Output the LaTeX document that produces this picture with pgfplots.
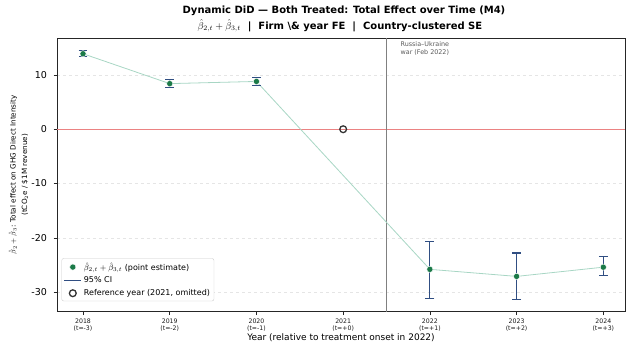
\documentclass[border=0pt]{standalone}
\usepackage{fontspec}
\setmainfont{DejaVu Sans}
\usepackage{pgfplots}
\pgfplotsset{compat=1.18}
\definecolor{ptgreen}{RGB}{27,122,72}
\definecolor{cinavy}{RGB}{48,78,130}
\definecolor{linegreen}{RGB}{168,214,196}
\definecolor{refred}{RGB}{235,130,130}
\definecolor{vgray}{RGB}{128,128,128}
\begin{document}
\begin{tikzpicture}
\path[use as bounding box] (0,0) rectangle (626bp,343bp);
\begin{axis}[
  name=ax,
  at={(57bp,31.3bp)}, anchor=south west,
  scale only axis, width=568bp, height=273.7bp,
  xmin=2017.7, xmax=2024.25, ymin=-33.6, ymax=16.8,
  axis line style={black!85, line width=0.6bp},
  xtick={2018,2019,2020,2021,2022,2023,2024},
  xticklabels={{2018\\(t=-3)},{2019\\(t=-2)},{2020\\(t=-1)},{2021\\(t=+0)},{2022\\(t=+1)},{2023\\(t=+2)},{2024\\(t=+3)}},
  xticklabel style={align=center, font=\fontsize{6.2bp}{7.4bp}\selectfont, text=black!90},
  ytick={-30,-20,-10,0,10},
  yticklabel style={font=\fontsize{9.5bp}{11bp}\selectfont, xshift=-3bp},
  /pgf/number format/assume math mode=true,
  tick align=outside, tick pos=left,
  major tick length=3.5bp,
  tick style={black!85, line width=0.6bp},
  ymajorgrids, grid style={dashed, black!10, line width=0.5bp},
  xlabel={Year (relative to treatment onset in 2022)},
  xlabel style={font=\fontsize{9bp}{10bp}\selectfont, at={(axis description cs:0.5,0)}, anchor=center, yshift=-26.3bp},
  ylabel={$\hat{\beta}_2+\hat{\beta}_3$: Total effect on GHG Direct Intensity\\(tCO$_2$e / \$1M revenue)},
  ylabel style={align=center, font=\fontsize{7.2bp}{11.6bp}\selectfont, at={(axis description cs:0,0.5)}, anchor=center, yshift=38.5bp},
  legend style={at={(0,0)}, anchor=south west, xshift=4.5bp, yshift=10.5bp,
    font=\fontsize{8bp}{9bp}\selectfont, draw=black!20, rounded corners=2bp,
    row sep=1.2bp, inner sep=2bp},
  legend cell align=left,
  clip=false,
]
% zero line
\addplot[color=refred, solid, line width=1.3bp, forget plot] coordinates {(2017.7,0) (2024.25,0)};
% war line
\addplot[color=vgray, solid, line width=1.3bp, forget plot] coordinates {(2021.5,-33.6) (2021.5,16.8)};
% connecting line
\addplot[color=linegreen, solid, line width=0.8bp, forget plot] coordinates {
(2018,13.9) (2019,8.4) (2020,8.8) (2022,-25.8) (2023,-27.1) (2024,-25.4)};
% CIs
\addplot[color=cinavy, draw=none, mark=none, forget plot, error bars/.cd, y dir=both, y explicit,
  error bar style={color=cinavy, solid, line width=1.2bp},
  error mark=|,
  error mark options={color=cinavy, solid, line width=1.2bp, mark size=4.4bp}]
  table[x=x, y=y, y error plus=ep, y error minus=em] {
x y ep em
2018 13.9 0.55 0.55
2019 8.4 0.7 0.7
2020 8.8 0.7 0.7
2022 -25.8 5.2 5.3
2023 -27.1 4.3 4.2
2024 -25.4 1.9 1.6
};
% points
\addplot[only marks, mark=*, mark size=3.1bp, mark options={draw=white, line width=0.4bp, fill=ptgreen}]
  coordinates {(2018,13.9) (2019,8.4) (2020,8.8) (2022,-25.8) (2023,-27.1) (2024,-25.4)};
\addlegendentry{$\hat{\beta}_{2,t}+\hat{\beta}_{3,t}$ (point estimate)}
\addlegendimage{color=cinavy, line width=1.2bp}
\addlegendentry{95\% CI}
\addplot[only marks, mark=o, mark size=3.4bp, mark options={draw=black!80, fill=white, line width=1.3bp}]
  coordinates {(2021,0)};
\addlegendentry{Reference year (2021, omitted)}
\node[anchor=north west, align=left, text=black!65, font=\fontsize{6.4bp}{7.7bp}\selectfont, inner sep=0pt]
  at (axis cs:2021.66,16.1) {Russia–Ukraine\\war (Feb 2022)};
\end{axis}
\node[font=\bfseries\fontsize{10bp}{11bp}\selectfont] at (344bp,332bp) {Dynamic DiD — Both Treated: Total Effect over Time (M4)};
\node[font=\bfseries\fontsize{10bp}{11bp}\selectfont] at (340bp,317bp) {$\hat{\beta}_{2,t}+\hat{\beta}_{3,t}$\ \ |\ \ Firm \textbackslash\& year FE\ \ |\ \ Country-clustered SE};
\end{tikzpicture}
\end{document}
